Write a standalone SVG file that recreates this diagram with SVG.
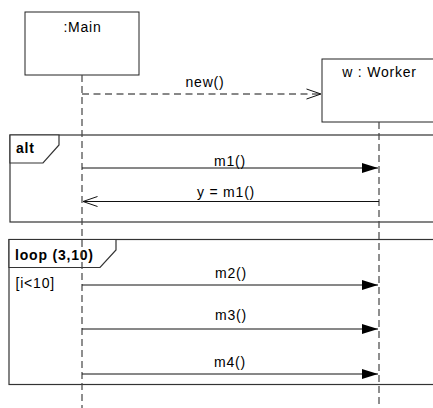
<svg xmlns="http://www.w3.org/2000/svg" width="433" height="408" viewBox="0 0 433 408">
  <style>
    .t { font-family: "Liberation Sans", Arial, sans-serif; font-size: 14px; letter-spacing: 0.8px; fill: #000; }
    .b { font-weight: bold; }
    .box { fill: #fff; stroke: #222; stroke-width: 1; }
    .frame { fill: none; stroke: #333; stroke-width: 1.2; }
    .tab { fill: #fff; stroke: #333; stroke-width: 1.2; }
    .life { stroke: #444; stroke-width: 1.2; stroke-dasharray: 7 4; fill: none; }
    .msg { stroke: #111; stroke-width: 1; fill: none; }
    .dash { stroke: #111; stroke-width: 1; fill: none; stroke-dasharray: 7 4.5; }
  </style>
  <defs>
    <marker id="filled" markerWidth="17" markerHeight="11" refX="16" refY="5.5" orient="auto" markerUnits="userSpaceOnUse">
      <path d="M0,0.5 L16,5.5 L0,10.5 Z" fill="#000"/>
    </marker>
    <marker id="open" markerWidth="16" markerHeight="12" refX="15" refY="6" orient="auto" markerUnits="userSpaceOnUse">
      <path d="M0.5,1 L15,6 L0.5,11" fill="none" stroke="#111" stroke-width="1"/>
    </marker>
  </defs>
  <rect width="433" height="408" fill="#fff"/>

  <g id="frame-alt">
    <rect class="frame" x="10" y="135" width="440" height="87"/>
    <path class="tab" d="M10,135 L59,135 L59,145 L43,163 L10,163 Z"/>
    <text class="t b" x="16" y="153">alt</text>
  </g>

  <g id="frame-loop">
    <rect class="frame" x="9" y="239.5" width="440" height="145"/>
    <path class="tab" d="M9,239.5 L116,239.5 L116,250 L100,267.5 L9,267.5 Z"/>
    <text class="t b" x="15" y="260">loop (3,10)</text>
    <text class="t" x="15.5" y="288">[i&lt;10]</text>
  </g>

  <g id="main">
    <rect class="box" x="25" y="12" width="114" height="63"/>
    <text class="t" x="82.5" y="32" text-anchor="middle">:Main</text>
    <line class="life" x1="82" y1="75" x2="82" y2="408"/>
  </g>

  <g id="worker">
    <rect class="box" x="322" y="59" width="120" height="63"/>
    <text class="t" x="379.5" y="77" text-anchor="middle">w : Worker</text>
    <line class="life" x1="379" y1="122" x2="379" y2="408"/>
  </g>

  <g id="connectors">
    <line class="dash" x1="82" y1="94" x2="321" y2="94" marker-end="url(#open)"/>
    <text class="t" x="205" y="87" text-anchor="middle">new()</text>

    <line class="msg" x1="82" y1="168" x2="378" y2="168" marker-end="url(#filled)"/>
    <text class="t" x="230" y="166" text-anchor="middle">m1()</text>

    <line class="msg" x1="379" y1="201.5" x2="83" y2="201.5" marker-end="url(#open)"/>
    <text class="t" x="226" y="196.5" text-anchor="middle">y = m1()</text>

    <line class="msg" x1="82" y1="285" x2="378" y2="285" marker-end="url(#filled)"/>
    <text class="t" x="231" y="278" text-anchor="middle">m2()</text>

    <line class="msg" x1="82" y1="329" x2="378" y2="329" marker-end="url(#filled)"/>
    <text class="t" x="231" y="319.5" text-anchor="middle">m3()</text>

    <line class="msg" x1="82" y1="374" x2="378" y2="374" marker-end="url(#filled)"/>
    <text class="t" x="230" y="366.5" text-anchor="middle">m4()</text>
  </g>
</svg>
